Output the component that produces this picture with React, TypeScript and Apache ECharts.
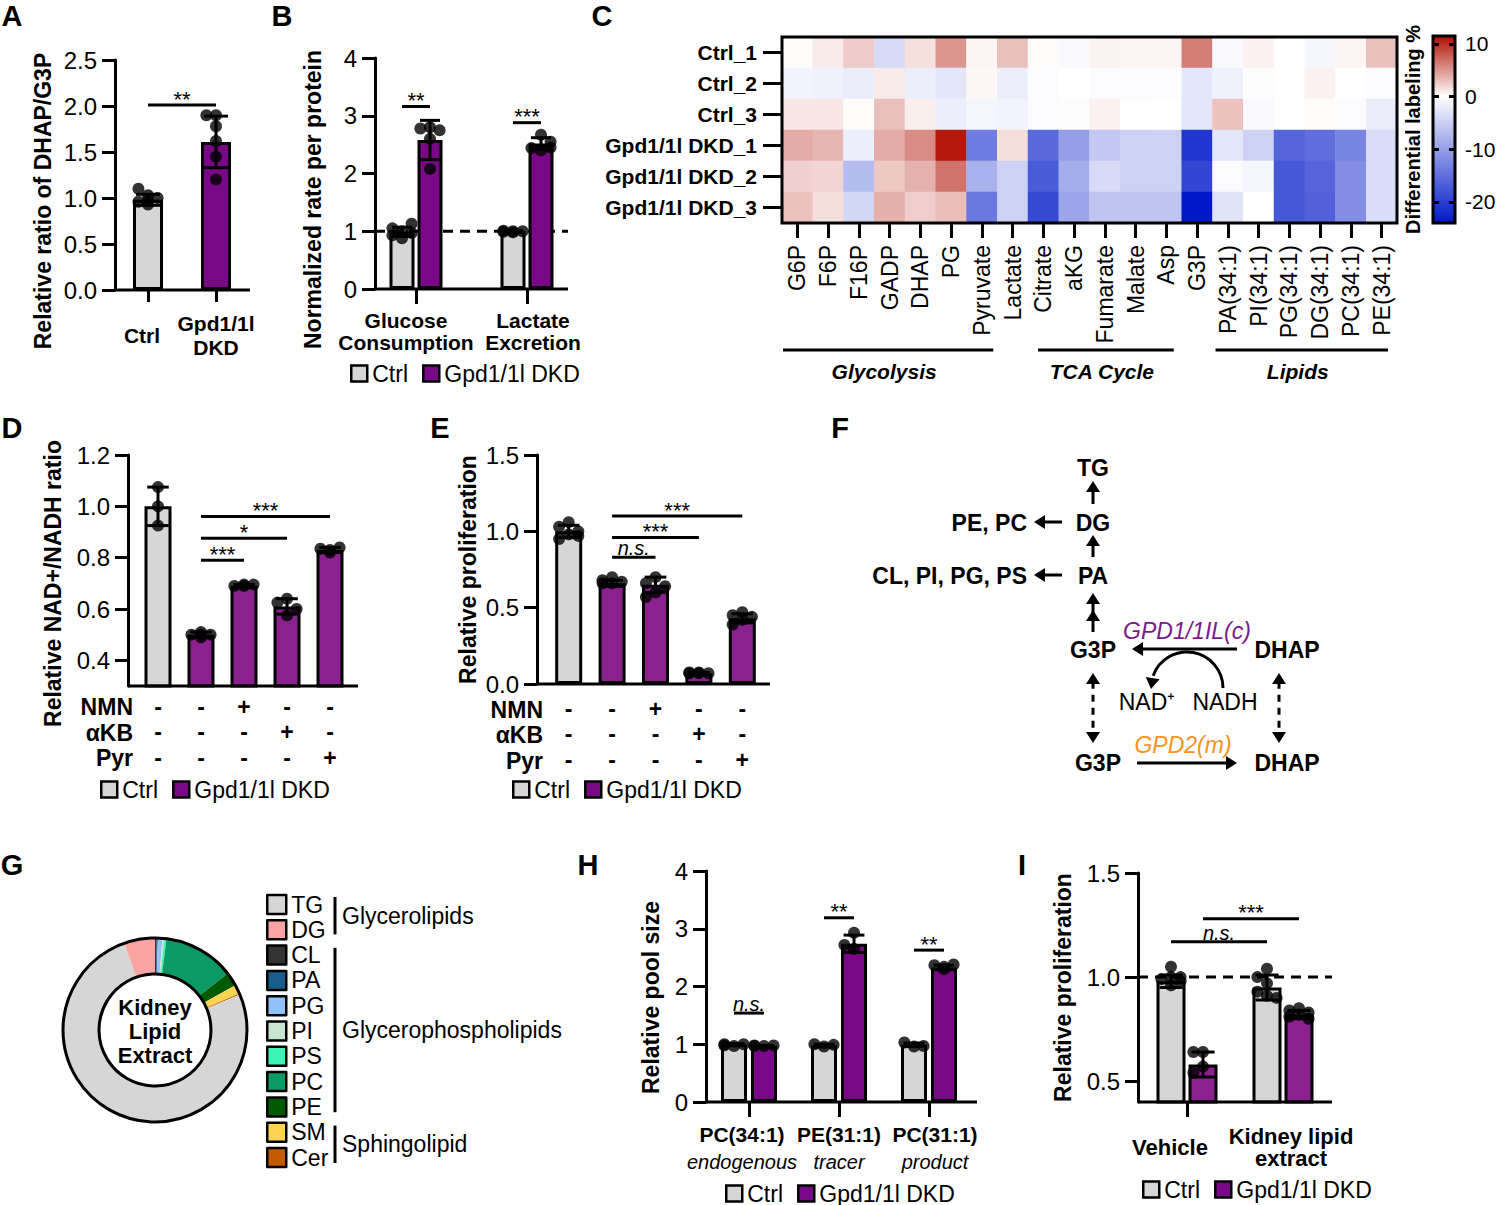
import React, { useEffect, useRef } from 'react';
import * as echarts from 'echarts';

const FONT = '"Liberation Sans", Arial, Helvetica, sans-serif';
const GRAY = '#d6d6d6';
const PURPLE_DARK = '#780885';
const PURPLE = '#8b208f';
const NAME_CTRL = 'Ctrl';
const NAME_DKD = 'Gpd1/1l DKD';

// ---------------- Panel A ----------------
const A_CATS = ['Ctrl', 'Gpd1/1l\nDKD'];
const A_CTRL = [0.98, null];
const A_CTRL_ERR = [0.06, null];
const A_CTRL_PTS = [[0.93, 0.96, 1.0, 1.03, 1.1, 0.97], []];
const A_DKD = [null, 1.61];
const A_DKD_ERR = [null, 0.28];
const A_DKD_PTS = [[], [1.9, 1.9, 1.78, 1.62, 1.45, 1.2]];
const A_SIG = [{ a: [0, 0], b: [1, 0], y: 2.01, t: '**' }];

// ---------------- Panel B ----------------
const B_CATS = ['Glucose\nConsumption', 'Lactate\nExcretion'];
const B_CTRL = [0.99, 1.0];
const B_CTRL_ERR = [0.08, 0.01];
const B_CTRL_PTS = [[0.88, 0.93, 0.97, 1.0, 1.05, 1.13], [0.98, 0.99, 1.0, 1.0, 1.01]];
const B_DKD = [2.58, 2.52];
const B_DKD_ERR = [0.34, 0.1];
const B_DKD_PTS = [[2.8, 2.78, 2.75, 2.6, 2.08], [2.4, 2.44, 2.55, 2.67, 2.45]];
const B_SIG = [{ a: [0, -1], b: [0, 1], y: 3.16, t: '**' }, { a: [1, -1], b: [1, 1], y: 2.88, t: '***' }];
const B_REF = 1;

// ---------------- Panel C (heatmap) ----------------
const HM_ROWS = ['Ctrl_1', 'Ctrl_2', 'Ctrl_3', 'Gpd1/1l DKD_1', 'Gpd1/1l DKD_2', 'Gpd1/1l DKD_3'];
const HM_COLS = ['G6P', 'F6P', 'F16P', 'GADP', 'DHAP', 'PG', 'Pyruvate', 'Lactate', 'Citrate', 'aKG', 'Fumarate', 'Malate', 'Asp', 'G3P', 'PA(34:1)', 'PI(34:1)', 'PG(34:1)', 'DG(34:1)', 'PC(34:1)', 'PE(34:1)'];
const HM_CTRL_1 = [0.2, 1.0, 2.5, -3.8, 1.5, 5.0, 0.5, 3.0, 0.2, -0.6, 0.6, 0.5, 0.5, 6.2, -0.6, 0.7, 0, -0.8, 0.5, 3.0];
const HM_CTRL_2 = [-1.2, -1.5, -2.0, 1.0, -1.8, -2.5, 0.4, -1.8, -0.3, 0.0, -0.3, -0.3, -0.3, -2.5, -1.5, 0.1, 0, 0.7, 0, -0.2];
const HM_CTRL_3 = [1.2, 1.2, 0.2, 3.0, 0.8, -1.8, -1.0, -1.2, -0.3, 0.1, 0.7, -0.1, 0, -2.5, 2.9, -0.5, -0.1, 0.2, -0.3, -2.0];
const HM_DKD_1 = [4.0, 3.5, -1.8, 4.0, 5.5, 11.0, -13.6, 1.6, -15.5, -10.0, -5.7, -4.7, -4.7, -21.0, -2.5, -4.7, -16.0, -15.0, -12.7, -3.5];
const HM_DKD_2 = [2.2, 2.0, -7.0, 2.6, 3.7, 6.7, -8.0, -4.7, -17.0, -8.5, -3.8, -4.7, -4.7, -19.3, -0.4, -0.9, -17.4, -16.0, -11.8, -3.5];
const HM_DKD_3 = [2.9, 1.6, -4.2, 3.8, 2.4, 3.1, -14.0, -4.7, -19.0, -9.4, -6.1, -6.1, -6.1, -24.0, -2.8, 0.0, -17.4, -16.5, -11.8, -3.5];
const HM_VALUES = [HM_CTRL_1, HM_CTRL_2, HM_CTRL_3, HM_DKD_1, HM_DKD_2, HM_DKD_3];
const HM_MIN = -24;
const HM_MAX = 11.5;
const HM_TICKS = [-20, -10, 0, 10];
const HM_GROUPS = [
  { name: 'Glycolysis', from: 0, to: 6 },
  { name: 'TCA Cycle', from: 8, to: 12 },
  { name: 'Lipids', from: 14, to: 19 },
];
const HM_RED = [175, 15, 0];
const HM_BLUE = [0, 25, 200];

// ---------------- Panel D ----------------
const D_CATS = ['Ctrl', 'DKD', 'DKD+NMN', 'DKD+aKB', 'DKD+Pyr'];
const D_NMN = ['-', '-', '+', '-', '-'];
const D_AKB = ['-', '-', '-', '+', '-'];
const D_PYR = ['-', '-', '-', '-', '+'];
const D_CTRL = [1.0, null, null, null, null];
const D_CTRL_ERR = [0.075, null, null, null, null];
const D_CTRL_PTS = [[1.075, 1.0, 0.925], [], [], [], []];
const D_DKD = [null, 0.5, 0.69, 0.61, 0.83];
const D_DKD_ERR = [null, 0.01, 0.005, 0.03, 0.01];
const D_DKD_PTS = [[], [0.49, 0.5, 0.5, 0.51, 0.5], [0.69, 0.69, 0.695, 0.695], [0.64, 0.575, 0.625, 0.6], [0.82, 0.835, 0.84, 0.83]];
const D_SIG = [
  { a: [1, 0], b: [2, 0], y: 0.79, t: '***' },
  { a: [1, 0], b: [3, 0], y: 0.876, t: '*' },
  { a: [1, 0], b: [4, 0], y: 0.96, t: '***' },
];

// ---------------- Panel E ----------------
const E_CATS = ['Ctrl', 'DKD', 'DKD+NMN', 'DKD+aKB', 'DKD+Pyr'];
const E_NMN = ['-', '-', '+', '-', '-'];
const E_AKB = ['-', '-', '-', '+', '-'];
const E_PYR = ['-', '-', '-', '-', '+'];
const E_CTRL = [1.0, null, null, null, null];
const E_CTRL_ERR = [0.04, null, null, null, null];
const E_CTRL_PTS = [[1.06, 1.03, 1.0, 0.98, 0.95, 0.97], [], [], [], []];
const E_DKD = [null, 0.66, 0.65, 0.07, 0.43];
const E_DKD_ERR = [null, 0.02, 0.05, 0.005, 0.03];
const E_DKD_PTS = [[], [0.7, 0.68, 0.67, 0.66, 0.66], [0.7, 0.66, 0.64, 0.6, 0.57], [0.07, 0.075, 0.07, 0.07, 0.075], [0.47, 0.45, 0.44, 0.42, 0.39]];
const E_SIG = [
  { a: [1, 0], b: [2, 0], y: 0.83, t: 'n.s.' },
  { a: [1, 0], b: [3, 0], y: 0.96, t: '***' },
  { a: [1, 0], b: [4, 0], y: 1.1, t: '***' },
];

// ---------------- Panel G (donut) ----------------
const LIPID_CLASSES = ['TG', 'DG', 'CL', 'PA', 'PG', 'PI', 'PS', 'PC', 'PE', 'SM', 'Cer'];
const LIPID_SHARE = [75.9, 5.4, 0.3, 0.2, 0.8, 0.3, 0.4, 12.5, 2.4, 1.6, 0.2];
const LIPID_COLORS = ['#d6d6d6', '#f9a3a3', '#333333', '#195d8c', '#91c1f9', '#c8e6d2', '#3ff2b5', '#0b9966', '#005a00', '#fcd452', '#c25a02'];
const PIE_DRAW_ORDER = ['CL', 'PA', 'PG', 'PI', 'PS', 'PC', 'PE', 'SM', 'Cer', 'TG', 'DG'];
const LIPID_GROUPS = [
  { name: 'Glycerolipids', first: 0, last: 1 },
  { name: 'Glycerophospholipids', first: 2, last: 8 },
  { name: 'Sphingolipid', first: 9, last: 10 },
];
const DONUT_TITLE = ['Kidney', 'Lipid', 'Extract'];

// ---------------- Panel H ----------------
const H_CATS = ['PC(34:1)', 'PE(31:1)', 'PC(31:1)'];
const H_ROLES = ['endogenous', 'tracer', 'product'];
const H_CTRL = [1.0, 0.98, 0.99];
const H_CTRL_ERR = [0.01, 0.02, 0.03];
const H_CTRL_PTS = [[0.97, 1.0, 1.0, 0.98], [0.96, 1.0, 0.99], [0.96, 1.03, 0.97]];
const H_DKD = [0.97, 2.74, 2.33];
const H_DKD_ERR = [0.01, 0.15, 0.04];
const H_DKD_PTS = [[0.97, 0.98, 0.98, 0.97], [2.93, 2.65, 2.72], [2.3, 2.37, 2.38, 2.34]];
const H_SIG = [
  { a: [0, -1], b: [0, 1], y: 1.54, t: 'n.s.' },
  { a: [1, -1], b: [1, 1], y: 3.19, t: '**' },
  { a: [2, -1], b: [2, 1], y: 2.63, t: '**' },
];

// ---------------- Panel I ----------------
const I_CATS = ['Vehicle', 'Kidney lipid\nextract'];
const I_CTRL = [0.98, 0.95];
const I_CTRL_ERR = [0.03, 0.06];
const I_CTRL_PTS = [[1.05, 1.0, 0.99, 0.98, 0.96, 1.0], [1.04, 1.0, 0.97, 0.93, 0.91, 0.9]];
const I_DKD = [0.58, 0.82];
const I_DKD_ERR = [0.06, 0.02];
const I_DKD_PTS = [[0.64, 0.64, 0.57, 0.54], [0.85, 0.84, 0.83, 0.82, 0.81, 0.8]];
const I_SIG = [
  { a: [0, -1], b: [1, -1], y: 1.17, t: 'n.s.' },
  { a: [0, 1], b: [1, 1], y: 1.28, t: '***' },
];
const I_REF = 1;

// ---------------- layout ----------------
const LAY: any = {
  A: { left: 114, top: 60, width: 136, height: 230, axisX: 115, xEnd: 250, shifts: [-6, 0] },
  B: { left: 360.5, top: 58, width: 222, height: 231, axisX: 375, xEnd: 568, shifts: [-10, 6] },
  C: { left: 782, top: 37, width: 615, height: 186 },
  CB: { left: 1433, top: 36, width: 22, height: 187 },
  D: { left: 136.5, top: 455, width: 215, height: 231, axisX: 128, xEnd: 358 },
  E: { left: 547, top: 455, width: 217, height: 229, axisX: 537, xEnd: 770 },
  H: { left: 704, top: 871, width: 270, height: 231, axisX: 706, xEnd: 977, shifts: [-7, 0, 6] },
  I: { left: 1139, top: 873, width: 192, height: 229, axisX: 1138, xEnd: 1332, shifts: [-17, 8] },
};
const DOT = 12;

function T(x: number, y: number, text: string, size = 23, opt: any = {}) {
  const align = opt.align || 'center';
  const va = opt.va || 'middle';
  const style: any = {
    text,
    fill: opt.fill || '#000',
    fontSize: size,
    fontFamily: FONT,
    fontWeight: opt.bold ? 'bold' : 'normal',
    fontStyle: opt.italic ? 'italic' : 'normal',
    align,
    verticalAlign: va,
    textAlign: align,
    textVerticalAlign: va,
  };
  if (opt.lh) style.lineHeight = opt.lh;
  return { type: 'text', x, y, z: 100, silent: true, style };
}

function Ln(x1: number, y1: number, x2: number, y2: number, w = 3, dash?: number[]) {
  const style: any = { stroke: '#000', lineWidth: w };
  if (dash) style.lineDash = dash;
  return { type: 'line', z: 100, silent: true, shape: { x1, y1, x2, y2 }, style };
}

function head(tx: number, ty: number, ux: number, uy: number, hl = 11, hw = 7) {
  const px = -uy;
  const py = ux;
  return {
    type: 'polygon', z: 100, silent: true,
    shape: { points: [[tx, ty], [tx - ux * hl + px * hw, ty - uy * hl + py * hw], [tx - ux * hl - px * hw, ty - uy * hl - py * hw]] },
    style: { fill: '#000' },
  };
}

function arrow(x1: number, y1: number, x2: number, y2: number, opt: any = {}) {
  const hl = 11;
  const dx = x2 - x1;
  const dy = y2 - y1;
  const len = Math.hypot(dx, dy);
  const ux = dx / len;
  const uy = dy / len;
  const both = !!opt.both;
  const sx = both ? x1 + ux * hl * 0.8 : x1;
  const sy = both ? y1 + uy * hl * 0.8 : y1;
  const els: any[] = [Ln(sx, sy, x2 - ux * hl * 0.8, y2 - uy * hl * 0.8, 3, opt.dash ? [7, 6] : undefined)];
  els.push(head(x2, y2, ux, uy, hl));
  if (both) els.push(head(x1, y1, -ux, -uy, hl));
  if (opt.extra != null) els.push(head(x1 + ux * opt.extra, y1 + uy * opt.extra, ux, uy, hl));
  return els;
}

function hmColor(v: number): string {
  const end = v >= 0 ? HM_RED : HM_BLUE;
  const t = Math.min(1, Math.abs(v) / (v >= 0 ? HM_MAX : -HM_MIN));
  const c = end.map((e) => Math.round(255 + (e - 255) * t));
  return `rgb(${c[0]},${c[1]},${c[2]})`;
}

function swarm(vals: number[], ppu: number, size: number, maxHalf: number): number[] {
  const placed: number[][] = [];
  const step = size * 0.8;
  return vals.map((v) => {
    const y = v * ppu;
    let best = 0;
    let bestD = -1;
    for (let k = 0; k <= 8; k++) {
      const cands = k === 0 ? [0] : [-k * step, k * step];
      for (const c of cands) {
        if (Math.abs(c) > maxHalf) continue;
        const d = placed.length ? Math.min(...placed.map((p) => Math.hypot(p[0] - c, p[1] - y))) : Infinity;
        if (d >= size * 0.85) {
          placed.push([c, y]);
          return c;
        }
        if (d > bestD) {
          bestD = d;
          best = c;
        }
      }
    }
    placed.push([best, y]);
    return best;
  });
}

// category labels built as rich text, each category nudged sideways by a layout shift
function shiftedLabel(lines: (i: number) => [string, string][], styles: Record<string, any>, shifts: number[]) {
  const rich: any = {};
  shifts.forEach((s, i) => {
    Object.keys(styles).forEach((k) => {
      rich[`${k}${i}`] = { ...styles[k], padding: s < 0 ? [0, -2 * s, 0, 0] : [0, 0, 0, 2 * s] };
    });
  });
  return {
    formatter: (v: any, i: number) => lines(i).map(([k, t]) => `{${k}${i}|${t}}`).join('\n'),
    rich,
  };
}

function buildBarPanel(p: any, xAxis: any[], yAxis: any[], series: any[], graphic: any[]) {
  const { gi, lay } = p;
  const ppu = lay.height / (p.yMax - p.yMin);
  const memberOff = p.overlap ? 0 : (p.barWidth + p.gapPx) / 2;
  const fmt = (v: number) => v.toFixed(p.dec);
  const tickCfg: any = { show: true, length: 13, lineStyle: { color: '#000', width: 3 } };
  const labelCfg: any = { color: '#000', fontSize: 24, fontFamily: FONT, margin: 18, formatter: fmt };
  if (p.yTicks) {
    tickCfg.customValues = p.yTicks;
    labelCfg.customValues = p.yTicks;
  }
  yAxis[gi] = {
    type: 'value', gridIndex: gi, min: p.yMin, max: p.yMax,
    ...(p.yInterval ? { interval: p.yInterval } : {}),
    offset: lay.left - lay.axisX,
    axisLine: { show: true, lineStyle: { color: '#000', width: 3 } },
    axisTick: tickCfg,
    axisLabel: labelCfg,
    splitLine: { show: false },
    name: p.yName, nameLocation: 'middle', nameGap: p.nameGap, nameRotate: 90, nameMoveOverlap: false,
    nameTextStyle: { fontSize: 23, fontWeight: 'bold', fontFamily: FONT, color: '#000', padding: [0, p.nameShift || 0, 0, 0] },
  };
  xAxis[gi] = {
    type: 'category', gridIndex: gi, data: p.cats,
    axisLine: { show: false },
    axisTick: { show: p.tickLen > 0, alignWithLabel: true, length: p.tickLen, lineStyle: { color: '#000', width: 3 }, ...(p.tickInterval ? { interval: p.tickInterval } : {}) },
    axisLabel: { interval: 0, color: '#000', fontFamily: FONT, ...p.label },
    splitLine: { show: false },
  };
  graphic.push(Ln(lay.axisX, lay.top + lay.height, lay.xEnd, lay.top + lay.height, 3));

  if (p.refLine != null) {
    series.push({
      type: 'custom', xAxisIndex: gi, yAxisIndex: gi, z: 1, silent: true,
      data: [[0, p.refLine]],
      renderItem: (params: any, api: any) => {
        const y = api.coord([0, api.value(1)])[1];
        return { type: 'line', shape: { x1: lay.axisX, y1: y, x2: lay.xEnd, y2: y }, style: { stroke: '#000', lineWidth: 3, lineDash: [10, 7] } };
      },
    });
  }

  p.groups.forEach((g: any) => {
    series.push({
      type: 'bar', name: g.name, xAxisIndex: gi, yAxisIndex: gi,
      barWidth: p.barWidth, barGap: p.overlap ? '-100%' : `${(p.gapPx / p.barWidth) * 100}%`,
      data: g.values.map((v: any) => (v == null ? '-' : v)),
      itemStyle: { color: g.color, borderColor: '#000', borderWidth: 3 },
      z: 2, silent: true, emphasis: { disabled: true },
    });
    const errData: any[] = [];
    g.values.forEach((v: any, i: number) => {
      if (v != null && g.errs[i] != null) errData.push([i, v, g.errs[i]]);
    });
    series.push({
      type: 'custom', xAxisIndex: gi, yAxisIndex: gi, z: 4, silent: true, data: errData,
      renderItem: (params: any, api: any) => {
        const x = api.value(0);
        const m = api.value(1);
        const e = api.value(2);
        const t = api.coord([x, m + e]);
        const b = api.coord([x, m - e]);
        const cx = t[0] + g.member * memberOff;
        const cap = p.barWidth * 0.4;
        const ls = { stroke: '#000', lineWidth: 3 };
        return {
          type: 'group',
          children: [
            { type: 'line', shape: { x1: cx, y1: t[1], x2: cx, y2: b[1] }, style: ls },
            { type: 'line', shape: { x1: cx - cap, y1: t[1], x2: cx + cap, y2: t[1] }, style: ls },
            { type: 'line', shape: { x1: cx - cap, y1: b[1], x2: cx + cap, y2: b[1] }, style: ls },
          ],
        };
      },
    });
    const pts: any[] = [];
    g.pts.forEach((arr: number[], i: number) => {
      const dx = swarm(arr, ppu, DOT, p.barWidth / 2 + 3);
      arr.forEach((v, k) => pts.push({ value: [i, v], symbolOffset: [g.member * memberOff + dx[k], 0] }));
    });
    series.push({
      type: 'scatter', xAxisIndex: gi, yAxisIndex: gi, symbol: 'circle', symbolSize: DOT,
      itemStyle: { color: '#000' }, z: 5, silent: true, data: pts,
    });
  });

  const sigs = p.sig;
  series.push({
    type: 'custom', xAxisIndex: gi, yAxisIndex: gi, z: 6, silent: true,
    data: sigs.map((s: any) => [s.a[0], s.y, s.b[0]]),
    renderItem: (params: any, api: any) => {
      const s = sigs[params.dataIndex];
      const p1 = api.coord([s.a[0], s.y]);
      const p2 = api.coord([s.b[0], s.y]);
      const x1 = p1[0] + s.a[1] * memberOff;
      const x2 = p2[0] + s.b[1] * memberOff;
      const y = p1[1];
      const ns = s.t === 'n.s.';
      return {
        type: 'group',
        children: [
          { type: 'line', shape: { x1, y1: y, x2, y2: y }, style: { stroke: '#000', lineWidth: 3 } },
          {
            type: 'text', x: (x1 + x2) / 2, y: ns ? y - 9 : y - 6,
            style: {
              text: s.t, fill: '#000', fontFamily: FONT, fontSize: ns ? 20 : 22, fontStyle: ns ? 'italic' : 'normal',
              lineHeight: ns ? 14 : 12,
              align: 'center', verticalAlign: 'middle', textAlign: 'center', textVerticalAlign: 'middle',
            },
          },
        ],
      };
    },
  });
}

function barLegend(left: number, top: number) {
  return {
    orient: 'horizontal', left, top, padding: 0, itemGap: 14, itemWidth: 16, itemHeight: 16, icon: 'rect',
    selectedMode: false,
    textStyle: { fontSize: 23, fontFamily: FONT, color: '#000' },
    data: [
      { name: NAME_CTRL, itemStyle: { color: GRAY, borderColor: '#000', borderWidth: 2.5 } },
      { name: NAME_DKD, itemStyle: { color: PURPLE_DARK, borderColor: '#000', borderWidth: 2.5 } },
    ],
  };
}

function buildOption() {
  const grid: any[] = [LAY.A, LAY.B, LAY.C, LAY.CB, LAY.D, LAY.E, LAY.H, LAY.I].map((g) => ({
    left: g.left, top: g.top, width: g.width, height: g.height, containLabel: false, outerBoundsMode: 'none',
  }));
  const xAxis: any[] = [];
  const yAxis: any[] = [];
  const series: any[] = [];
  const graphic: any[] = [];
  const legend: any[] = [];
  const boldCat = { fontSize: 21, fontWeight: 'bold', fontFamily: FONT, color: '#000', lineHeight: 23 };

  // ---- A
  buildBarPanel({
    gi: 0, lay: LAY.A, cats: A_CATS, yMin: 0, yMax: 2.5, yInterval: 0.5, dec: 1,
    yName: 'Relative ratio of DHAP/G3P', nameGap: 61, nameShift: 52,
    groups: [
      { name: NAME_CTRL, color: GRAY, values: A_CTRL, errs: A_CTRL_ERR, pts: A_CTRL_PTS, member: 0 },
      { name: NAME_DKD, color: PURPLE_DARK, values: A_DKD, errs: A_DKD_ERR, pts: A_DKD_PTS, member: 0 },
    ],
    barWidth: 30, gapPx: 0, overlap: true, tickLen: 12,
    label: {
      verticalAlign: 'middle', margin: 45,
      ...shiftedLabel((i) => A_CATS[i].split('\n').map((t) => ['b', t] as [string, string]), { b: { ...boldCat, lineHeight: 24 } }, LAY.A.shifts),
    },
    sig: A_SIG,
  }, xAxis, yAxis, series, graphic);

  // ---- B
  buildBarPanel({
    gi: 1, lay: LAY.B, cats: B_CATS, yMin: 0, yMax: 4, yInterval: 1, dec: 0,
    yName: 'Normalized rate per protein', nameGap: 51, nameShift: 52,
    groups: [
      { name: NAME_CTRL, color: GRAY, values: B_CTRL, errs: B_CTRL_ERR, pts: B_CTRL_PTS, member: -1 },
      { name: NAME_DKD, color: PURPLE_DARK, values: B_DKD, errs: B_DKD_ERR, pts: B_DKD_PTS, member: 1 },
    ],
    barWidth: 25, gapPx: 3, overlap: false, tickLen: 15,
    label: {
      margin: 20,
      ...shiftedLabel((i) => B_CATS[i].split('\n').map((t) => ['b', t] as [string, string]), { b: { ...boldCat, lineHeight: 22 } }, LAY.B.shifts),
    },
    sig: B_SIG, refLine: B_REF,
  }, xAxis, yAxis, series, graphic);
  legend.push(barLegend(350, 362));

  // ---- C heatmap
  xAxis[2] = {
    type: 'category', gridIndex: 2, data: HM_COLS, position: 'bottom',
    axisLine: { show: false },
    axisTick: { show: true, alignWithLabel: true, length: 15, lineStyle: { color: '#000', width: 3 } },
    axisLabel: { interval: 0, rotate: 90, fontSize: 23, fontFamily: FONT, color: '#000', margin: 22 },
    splitLine: { show: false }, splitArea: { show: false },
  };
  yAxis[2] = {
    type: 'category', gridIndex: 2, data: HM_ROWS, inverse: true,
    axisLine: { show: false },
    axisTick: { show: true, alignWithLabel: true, length: 19, lineStyle: { color: '#000', width: 3 } },
    axisLabel: { fontSize: 21, fontWeight: 'bold', fontFamily: FONT, color: '#000', margin: 25 },
    splitLine: { show: false }, splitArea: { show: false },
  };
  const hmData: any[] = [];
  HM_VALUES.forEach((row, r) => row.forEach((v, c) => hmData.push([c, r, v])));
  const heatIndex = series.length;
  series.push({
    type: 'heatmap', xAxisIndex: 2, yAxisIndex: 2, data: hmData, silent: true, z: 2,
    itemStyle: { borderWidth: 0 }, emphasis: { disabled: true },
  });
  const hmSteps = 72;
  const hmPalette = Array.from({ length: hmSteps }, (_, k) => hmColor(HM_MIN + ((HM_MAX - HM_MIN) * k) / (hmSteps - 1)));
  const C = LAY.C;
  graphic.push({
    type: 'rect', z: 100, silent: true, shape: { x: C.left, y: C.top, width: C.width, height: C.height },
    style: { fill: 'none', stroke: '#000', lineWidth: 3 },
  });
  const colW = C.width / HM_COLS.length;
  const groupPad: any = { Glycolysis: [1, -4], 'TCA Cycle': [10, -8], Lipids: [3, -9] };
  HM_GROUPS.forEach((g) => {
    const pad = groupPad[g.name];
    const x1 = C.left + colW * g.from + pad[0];
    const x2 = C.left + colW * (g.to + 1) + pad[1];
    graphic.push(Ln(x1, 350, x2, 350, 3));
    graphic.push(T((x1 + x2) / 2 - 4, 371, g.name, 21, { bold: true, italic: true }));
  });

  // colorbar
  const CB = LAY.CB;
  const zeroFrac = HM_MAX / (HM_MAX - HM_MIN);
  graphic.push({
    type: 'rect', z: 1, silent: true, shape: { x: CB.left, y: CB.top, width: CB.width, height: CB.height },
    style: {
      fill: {
        type: 'linear', x: 0, y: 0, x2: 0, y2: 1,
        colorStops: [
          { offset: 0, color: hmColor(HM_MAX) },
          { offset: zeroFrac, color: '#ffffff' },
          { offset: 1, color: hmColor(HM_MIN) },
        ],
      },
      stroke: '#000', lineWidth: 3,
    },
  });
  xAxis[3] = { type: 'value', gridIndex: 3, show: false, min: 0, max: 1 };
  const cbTick = { show: true, inside: true, length: 6, customValues: HM_TICKS, lineStyle: { color: '#000', width: 3 } };
  yAxis[3] = {
    type: 'value', gridIndex: 3, min: HM_MIN, max: HM_MAX, position: 'left', z: 10,
    axisLine: { show: false }, axisTick: cbTick, axisLabel: { show: false }, splitLine: { show: false },
    name: 'Differential labeling %', nameLocation: 'middle', nameRotate: 90, nameGap: 10, nameMoveOverlap: false,
    nameTextStyle: { fontSize: 20, fontWeight: 'bold', fontFamily: FONT, color: '#000' },
  };
  yAxis[8] = {
    type: 'value', gridIndex: 3, min: HM_MIN, max: HM_MAX, position: 'right', z: 10,
    axisLine: { show: false }, axisTick: cbTick,
    axisLabel: {
      show: true, customValues: HM_TICKS, fontSize: 21, fontFamily: FONT, color: '#000', margin: 10,
      formatter: (v: number) => (Math.abs(v % 10) < 1e-6 ? String(v) : ''),
    },
    splitLine: { show: false },
  };

  // ---- D
  buildBarPanel({
    gi: 4, lay: LAY.D, cats: D_CATS, yMin: 0.3, yMax: 1.2, yTicks: [0.4, 0.6, 0.8, 1.0, 1.2], dec: 1,
    yName: 'Relative NAD+/NADH ratio', nameGap: 64, nameShift: 26,
    groups: [
      { name: NAME_CTRL, color: GRAY, values: D_CTRL, errs: D_CTRL_ERR, pts: D_CTRL_PTS, member: 0 },
      { name: NAME_DKD, color: PURPLE, values: D_DKD, errs: D_DKD_ERR, pts: D_DKD_PTS, member: 0 },
    ],
    barWidth: 27, gapPx: 0, overlap: true, tickLen: 0,
    label: { fontSize: 23, fontWeight: 'bold', lineHeight: 25.5, margin: 8, formatter: (v: any, i: number) => `${D_NMN[i]}\n${D_AKB[i]}\n${D_PYR[i]}` },
    sig: D_SIG,
  }, xAxis, yAxis, series, graphic);
  ['NMN', 'αKB', 'Pyr'].forEach((s, k) => graphic.push(T(133, 707 + k * 25.5, s, 23, { bold: true, align: 'right' })));
  legend.push(barLegend(100, 778));

  // ---- E
  buildBarPanel({
    gi: 5, lay: LAY.E, cats: E_CATS, yMin: 0, yMax: 1.5, yInterval: 0.5, dec: 1,
    yName: 'Relative proliferation', nameGap: 58, nameShift: 0,
    groups: [
      { name: NAME_CTRL, color: GRAY, values: E_CTRL, errs: E_CTRL_ERR, pts: E_CTRL_PTS, member: 0 },
      { name: NAME_DKD, color: PURPLE, values: E_DKD, errs: E_DKD_ERR, pts: E_DKD_PTS, member: 0 },
    ],
    barWidth: 27, gapPx: 0, overlap: true, tickLen: 0,
    label: { fontSize: 23, fontWeight: 'bold', lineHeight: 25.5, margin: 12, formatter: (v: any, i: number) => `${E_NMN[i]}\n${E_AKB[i]}\n${E_PYR[i]}` },
    sig: E_SIG,
  }, xAxis, yAxis, series, graphic);
  ['NMN', 'αKB', 'Pyr'].forEach((s, k) => graphic.push(T(543, 709.5 + k * 25.5, s, 23, { bold: true, align: 'right' })));
  legend.push(barLegend(512, 778));

  // ---- H
  buildBarPanel({
    gi: 6, lay: LAY.H, cats: H_CATS, yMin: 0, yMax: 4, yInterval: 1, dec: 0,
    yName: 'Relative pool size', nameGap: 44, nameShift: 22,
    groups: [
      { name: NAME_CTRL, color: GRAY, values: H_CTRL, errs: H_CTRL_ERR, pts: H_CTRL_PTS, member: -1 },
      { name: NAME_DKD, color: PURPLE_DARK, values: H_DKD, errs: H_DKD_ERR, pts: H_DKD_PTS, member: 1 },
    ],
    barWidth: 26, gapPx: 4, overlap: false, tickLen: 15,
    label: {
      margin: 19,
      ...shiftedLabel(
        (i) => [['b', H_CATS[i]], ['i', H_ROLES[i]]],
        {
          b: { fontSize: 21, fontWeight: 'bold', fontFamily: FONT, color: '#000', lineHeight: 27 },
          i: { fontSize: 20, fontStyle: 'italic', fontFamily: FONT, color: '#000', lineHeight: 27 },
        },
        LAY.H.shifts,
      ),
    },
    sig: H_SIG,
  }, xAxis, yAxis, series, graphic);
  legend.push(barLegend(725, 1182));

  // ---- I
  buildBarPanel({
    gi: 7, lay: LAY.I, cats: I_CATS, yMin: 0.4, yMax: 1.5, yTicks: [0.5, 1.0, 1.5], dec: 1,
    yName: 'Relative proliferation', nameGap: 64, nameShift: 0,
    groups: [
      { name: NAME_CTRL, color: GRAY, values: I_CTRL, errs: I_CTRL_ERR, pts: I_CTRL_PTS, member: -1 },
      { name: NAME_DKD, color: PURPLE, values: I_DKD, errs: I_DKD_ERR, pts: I_DKD_PTS, member: 1 },
    ],
    barWidth: 29, gapPx: 3, overlap: false, tickLen: 15, tickInterval: (i: number) => i === 0,
    label: {
      verticalAlign: 'middle', margin: 45,
      ...shiftedLabel((i) => I_CATS[i].split('\n').map((t) => ['b', t] as [string, string]), { b: { ...boldCat, fontSize: 22, lineHeight: 22 } }, LAY.I.shifts),
    },
    sig: I_SIG, refLine: I_REF,
  }, xAxis, yAxis, series, graphic);
  legend.push(barLegend(1142, 1178));

  // ---- G donut
  series.push({
    type: 'pie', center: [155, 1030], radius: [56, 92], startAngle: 90, clockwise: true,
    label: { show: false }, labelLine: { show: false }, silent: true, z: 2,
    itemStyle: { borderWidth: 0 }, emphasis: { disabled: true },
    data: PIE_DRAW_ORDER.map((n) => {
      const i = LIPID_CLASSES.indexOf(n);
      return { name: n, value: LIPID_SHARE[i], itemStyle: { color: LIPID_COLORS[i] } };
    }),
  });
  graphic.push({ type: 'circle', z: 100, silent: true, shape: { cx: 155, cy: 1030, r: 92 }, style: { fill: 'none', stroke: '#000', lineWidth: 3 } });
  graphic.push({ type: 'circle', z: 100, silent: true, shape: { cx: 155, cy: 1030, r: 56 }, style: { fill: 'none', stroke: '#000', lineWidth: 3 } });
  DONUT_TITLE.forEach((s, k) => graphic.push(T(155, 1007 + k * 24, s, 22, { bold: true, lh: 17 })));
  legend.push({
    orient: 'vertical', left: 266, top: 893, padding: 0, itemGap: 2.3, itemWidth: 19, itemHeight: 19, icon: 'rect',
    selectedMode: false,
    textStyle: { fontSize: 23, fontFamily: FONT, color: '#000', lineHeight: 20 },
    data: LIPID_CLASSES.map((n, i) => ({ name: n, itemStyle: { color: LIPID_COLORS[i], borderColor: '#000', borderWidth: 2.5 } })),
  });
  const rowY = (i: number) => 903 + 25.4 * i;
  LIPID_GROUPS.forEach((g) => {
    const y1 = rowY(g.first) - 6;
    const y2 = rowY(g.last) + 6;
    graphic.push(Ln(335, y1, 335, y2, 3));
    graphic.push(T(342, (y1 + y2) / 2, g.name, 23, { align: 'left' }));
  });

  // ---- F diagram
  graphic.push(T(1093, 468, 'TG', 23, { bold: true }));
  graphic.push(T(1093, 523, 'DG', 23, { bold: true }));
  graphic.push(T(1027, 523, 'PE, PC', 23, { bold: true, align: 'right' }));
  graphic.push(T(1093, 576, 'PA', 23, { bold: true }));
  graphic.push(T(1027, 576, 'CL, PI, PG, PS', 23, { bold: true, align: 'right' }));
  graphic.push(T(1093, 650, 'G3P', 23, { bold: true }));
  graphic.push(T(1287, 650, 'DHAP', 23, { bold: true }));
  graphic.push(T(1187, 631, 'GPD1/1IL(c)', 23, { italic: true, fill: '#7b1a8c' }));
  graphic.push(T(1147, 702, 'NAD⁺', 23));
  graphic.push(T(1225, 702, 'NADH', 23));
  graphic.push(T(1098, 763, 'G3P', 23, { bold: true }));
  graphic.push(T(1287, 763, 'DHAP', 23, { bold: true }));
  graphic.push(T(1183, 745, 'GPD2(m)', 23, { italic: true, fill: '#f7931e' }));
  graphic.push(...arrow(1093, 504, 1093, 481));
  graphic.push(...arrow(1062, 522, 1034, 522));
  graphic.push(...arrow(1093, 557, 1093, 535));
  graphic.push(...arrow(1062, 575, 1034, 575));
  graphic.push(...arrow(1093, 632, 1093, 593, { extra: 22 }));
  graphic.push(...arrow(1237, 649, 1132, 649));
  graphic.push({
    type: 'arc', z: 100, silent: true,
    shape: { cx: 1187, cy: 688, r: 36, startAngle: Math.PI + 0.35, endAngle: Math.PI * 2, clockwise: true },
    style: { fill: 'none', stroke: '#000', lineWidth: 3 },
  });
  graphic.push(head(1151, 689, -0.15, 0.99, 11, 7));
  graphic.push(...arrow(1093, 673, 1093, 743, { both: true, dash: true }));
  graphic.push(...arrow(1279, 673, 1279, 743, { both: true, dash: true }));
  graphic.push(...arrow(1137, 763, 1237, 763));

  // ---- panel letters
  const letters: [string, number, number][] = [
    ['A', 12, 1], ['B', 282, 1], ['C', 602, 1], ['D', 12, 413], ['E', 440, 413],
    ['F', 840, 413], ['G', 12, 850], ['H', 588, 850], ['I', 1022, 850],
  ];
  letters.forEach(([s, x, y]) => graphic.push(T(x, y, s, 29, { bold: true, va: 'top' })));

  return {
    animation: false,
    backgroundColor: '#ffffff',
    textStyle: { fontFamily: FONT },
    grid,
    xAxis,
    yAxis,
    legend,
    visualMap: [{
      type: 'continuous', show: false, seriesIndex: heatIndex, dimension: 2,
      min: HM_MIN, max: HM_MAX, inRange: { color: hmPalette },
    }],
    series,
    graphic: { elements: graphic },
  };
}

export default function App() {
  const ref = useRef<HTMLDivElement>(null);
  useEffect(() => {
    if (!ref.current) return;
    const chart = echarts.init(ref.current, null, { renderer: 'svg' });
    chart.setOption(buildOption() as any);
    return () => chart.dispose();
  }, []);
  return <div ref={ref} style={{ position: 'absolute', left: 0, top: 0, width: 1500, height: 1205, background: '#ffffff' }} />;
}
